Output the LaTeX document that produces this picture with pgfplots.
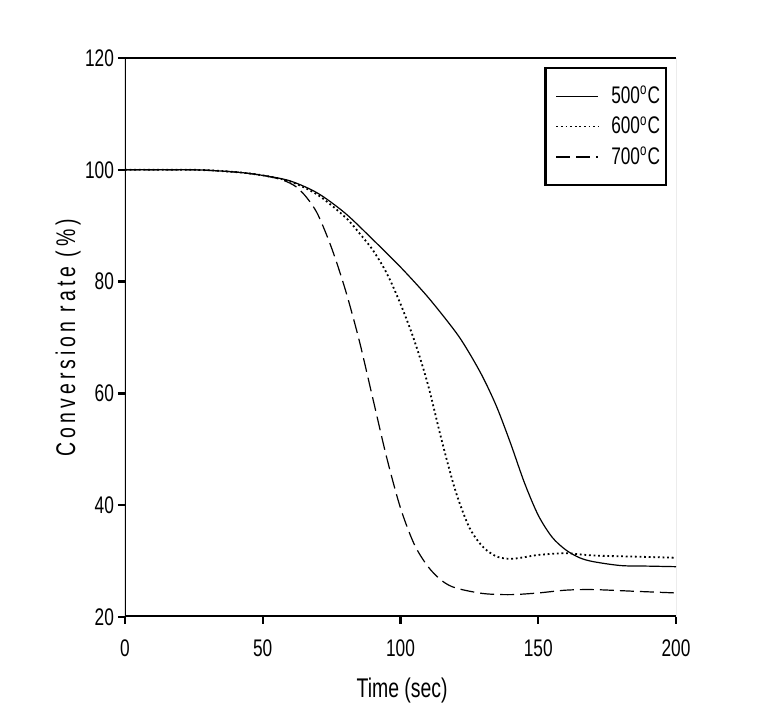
\documentclass[border=0pt]{standalone}
\usepackage{fontspec}
\setmainfont{Liberation Sans}[FakeStretch=0.72]
\newfontfamily\labfont{Liberation Sans}[FakeStretch=0.72,LetterSpace=15]
\usepackage{pgfplots}
\pgfplotsset{compat=1.18}
\begin{document}
\begin{tikzpicture}
\path[use as bounding box] (-62.5pt,-52.5pt) rectangle (325.5pt,308.5pt);
\begin{axis}[
  scale only axis, width=275.5pt, height=279.5pt,
  at={(0,0)}, anchor=south west,
  xmin=0, xmax=200, ymin=20, ymax=120,
  xtick={0,50,100,150,200}, ytick={20,40,60,80,100,120},
  tick pos=left, tick align=outside,
  major tick length=3.5pt,
  every tick/.style={line width=1.2pt, black},
  axis line style={draw=none},
  /pgf/number format/assume math mode=true,
  tick label style={font=\fontsize{12}{14}\selectfont},
  xticklabel style={yshift=-4.5pt},
  yticklabel style={xshift=1.5pt},
  xlabel={Time (sec)},
  ylabel={\labfont Conversion rate (\%)},
  xlabel style={at={(axis description cs:0.503,-0.131)}, anchor=center, font=\fontsize{13.5}{15}\selectfont},
  ylabel style={at={(axis description cs:-0.103,0.5)}, anchor=center, font=\fontsize{13.5}{16}\selectfont},
  legend cell align=left,
  legend style={at={(rel axis cs:0.984,0.984)}, anchor=north east, draw=black, line width=1.2pt,
    font=\fontsize{12}{14}\selectfont, row sep=1pt, inner xsep=1pt, inner ysep=7pt},
  legend image code/.code={\path (0pt,0pt); \draw[#1, line width=0.7pt] (4pt,0cm) -- (25pt,0cm); \path (29pt,0pt);},
]
\addplot[black, line width=0.6pt, smooth, tension=0.5] coordinates {
(0,100) (25,100) (40,99.6) (50,99.0) (60,98.0) (70,95.8) (80,92.2) (90,87.5) (100,82.6)
(110,77.2) (120,71) (125,67.2) (130,62.8) (135,57.5) (140,51) (145,44) (150,38.2) (155,34.3)
(160,32) (165,30.6) (170,29.9) (180,29.2) (190,29.1) (200,29.0)};
\addlegendentry{500\textsuperscript{o}C}
\addplot[black, line width=0.9pt, dash pattern=on 0.9pt off 1.4pt, smooth, tension=0.5] coordinates {
(0,100) (25,100) (40,99.6) (50,99.0) (60,97.9) (70,95.5) (80,91.5) (85,88.7) (90,85.6) (95,81.5)
(100,76) (105,69.5) (110,61.5) (115,51.5) (120,42.5) (125,36) (130,32.5) (135,30.8) (140,30.4)
(145,30.7) (150,31.1) (160,31.4) (170,31.0) (185,30.8) (200,30.6)};
\addlegendentry{600\textsuperscript{o}C}
\addplot[black, line width=0.6pt, dash pattern=on 7pt off 3pt, smooth, tension=0.5] coordinates {
(0,100) (25,100) (40,99.6) (50,99.0) (57,98.2) (62,97) (66,95) (70,92) (75,86) (80,78.5)
(85,69.5) (90,59) (95,48.5) (100,39.5) (105,33) (110,29) (115,26.5) (120,25.2) (130,24.2)
(140,24.0) (150,24.3) (160,24.8) (170,24.9) (185,24.6) (200,24.3)};
\addlegendentry{700\textsuperscript{o}C}
\draw[line width=1.5pt] (rel axis cs:0,1) -- (rel axis cs:0,0) -- (rel axis cs:1,0);
\draw[line width=1.2pt] (rel axis cs:0,1) -- (rel axis cs:1,1);
\draw[line width=0.5pt, black!60] (rel axis cs:1,1) -- (rel axis cs:1,0);
\end{axis}
\end{tikzpicture}
\end{document}
